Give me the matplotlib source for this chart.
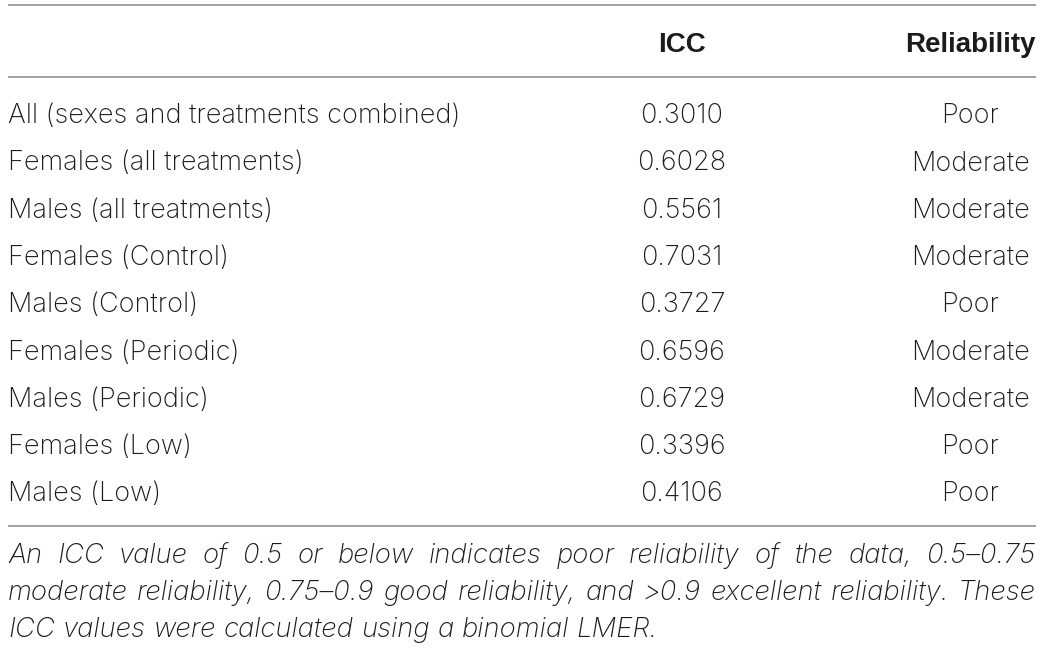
import matplotlib.pyplot as plt

groups = [
    "All (sexes and treatments combined)",
    "Females (all treatments)",
    "Males (all treatments)",
    "Females (Control)",
    "Males (Control)",
    "Females (Periodic)",
    "Males (Periodic)",
    "Females (Low)",
    "Males (Low)",
]
icc = [0.3010, 0.6028, 0.5561, 0.7031, 0.3727, 0.6596, 0.6729, 0.3396, 0.4106]
reliability = ["Poor", "Moderate", "Moderate", "Moderate", "Poor",
               "Moderate", "Moderate", "Poor", "Poor"]
headers = ["ICC", "Reliability"]
note_lines = [
    "An ICC value of 0.5 or below indicates poor reliability of the data, 0.5\u20130.75",
    "moderate reliability, 0.75\u20130.9 good reliability, and >0.9 excellent reliability. These",
    "ICC values were calculated using a binomial LMER.",
]

W, H = 1042, 650
fig = plt.figure(figsize=(W / 100, H / 100), dpi=100)
ax = fig.add_axes([0, 0, 1, 1])
ax.set_xlim(0, W)
ax.set_ylim(H, 0)
ax.axis("off")

body_font = "Inter"
head_font = "Liberation Sans"
ink = "#1c1a1b"
rule = "#9a9a9a"
left, right = 8, 1036
icc_x, rel_x = 682, 970
fs = 19.5
note_fs = 19.8

# rules
for y in (5, 77, 526):
    ax.plot([left, right], [y, y], color=rule, lw=1.3, solid_capstyle="butt")

# header
ax.text(icc_x, 52, headers[0], ha="center", va="baseline", fontsize=20,
        fontweight="bold", family=head_font, color=ink)
ax.text(rel_x, 52, headers[1], ha="center", va="baseline", fontsize=20,
        fontweight="bold", family=head_font, color=ink)

# body rows
for i, (g, v, r) in enumerate(zip(groups, icc, reliability)):
    y = 123 + i * 47.3
    ax.text(left, y, g, ha="left", va="baseline", fontsize=fs, family=body_font,
            weight="light", color=ink)
    ax.text(icc_x, y, f"{v:.4f}", ha="center", va="baseline", fontsize=fs,
            family=body_font, weight="light", color=ink)
    ax.text(rel_x, y, r, ha="center", va="baseline", fontsize=fs,
            family=body_font, weight="light", color=ink)

# footnote, justified by hand
renderer = fig.canvas.get_renderer()
note_kw = dict(fontsize=note_fs, style="italic", family=body_font, weight="light")
for k, line in enumerate(note_lines):
    y = 563 + k * 37
    words = line.split(" ")
    arts = [ax.text(0, y, w, ha="left", va="baseline", color=ink, **note_kw)
            for w in words]
    widths = [a.get_window_extent(renderer).width for a in arts]
    if k < len(note_lines) - 1:
        gap = (right - left - sum(widths)) / (len(words) - 1)
    else:
        sp = ax.text(0, y, "a a", **note_kw)
        aa = ax.text(0, y, "aa", **note_kw)
        gap = sp.get_window_extent(renderer).width - aa.get_window_extent(renderer).width
        sp.remove()
        aa.remove()
    x = left
    for a, w in zip(arts, widths):
        a.set_x(x)
        x += w + gap

fig.savefig("out.png", dpi=100)
